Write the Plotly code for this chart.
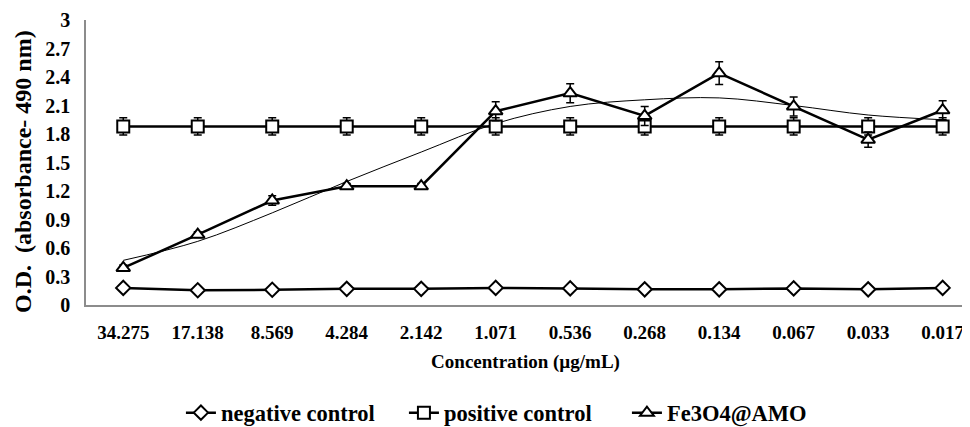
import plotly.graph_objects as go

concentrations = ["34.275", "17.138", "8.569", "4.284", "2.142", "1.071",
                  "0.536", "0.268", "0.134", "0.067", "0.033", "0.017"]
negative_control = [0.18, 0.155, 0.16, 0.17, 0.17, 0.18, 0.175, 0.165, 0.165, 0.175, 0.165, 0.18]
positive_control = [1.88] * 12
positive_err = [0.09] * 12
fe3o4_amo = [0.39, 0.74, 1.10, 1.25, 1.25, 2.04, 2.23, 1.99, 2.44, 2.09, 1.74, 2.05]
fe3o4_err = [0.03, 0.03, 0.05, 0.03, 0.03, 0.10, 0.10, 0.10, 0.12, 0.10, 0.08, 0.10]
# polynomial trendline of Fe3O4@AMO
fe3o4_trend = [0.47, 0.67, 0.97, 1.30, 1.61, 1.91, 2.09, 2.16, 2.18, 2.10, 2.00, 1.95]
y_ticks = [0, 0.3, 0.6, 0.9, 1.2, 1.5, 1.8, 2.1, 2.4, 2.7, 3]
y_ticktext = ["0", "0.3", "0.6", "0.9", "1.2", "1.5", "1.8", "2.1", "2.4", "2.7", "3"]

idx = list(range(len(concentrations)))
FONT = "Times New Roman, Liberation Serif, serif"

fig = go.Figure()

fig.add_trace(go.Scatter(x=idx, y=fe3o4_trend, mode="lines",
                         line=dict(color="black", width=1, shape="spline", smoothing=1.0),
                         showlegend=False, hoverinfo="skip"))

fig.add_trace(go.Scatter(
    x=idx, y=negative_control, name="negative control", mode="lines+markers",
    line=dict(color="black", width=2.5),
    marker=dict(symbol="diamond", size=11, color="white", line=dict(color="black", width=2))))

fig.add_trace(go.Scatter(
    x=idx, y=positive_control, name="positive control", mode="lines+markers",
    line=dict(color="black", width=2.5),
    error_y=dict(type="data", array=positive_err, color="black", thickness=1.5, width=4),
    marker=dict(symbol="square", size=12, color="white", line=dict(color="black", width=2))))

fig.add_trace(go.Scatter(
    x=idx, y=fe3o4_amo, name="Fe3O4@AMO", mode="lines+markers",
    line=dict(color="black", width=2.5),
    error_y=dict(type="data", array=fe3o4_err, color="black", thickness=1.5, width=4),
    marker=dict(symbol="triangle-up", size=12, color="white", line=dict(color="black", width=2))))

fig.add_annotation(text="O.D.  (absorbance- 490 nm)", xref="paper", yref="paper",
                   x=-0.0717, y=0.47, xanchor="center", yanchor="middle", textangle=-90,
                   showarrow=False,
                   font=dict(family=FONT, size=24, color="black", weight="bold"))

fig.update_layout(
    width=962, height=419,
    margin=dict(l=78, r=5, t=12, b=122, autoexpand=False),
    paper_bgcolor="white", plot_bgcolor="white",
    font=dict(family=FONT, color="black"),
    showlegend=True,
    legend=dict(orientation="h", x=0.108, xanchor="left", y=-0.379, yanchor="middle",
                font=dict(family=FONT, size=22.5, color="black", weight="bold"),
                itemwidth=30, tracegroupgap=0, entrywidth=178, entrywidthmode="pixels"),
    xaxis=dict(
        tickmode="array", tickvals=idx, ticktext=concentrations,
        range=[-0.5, 11.3], showgrid=False, zeroline=False, automargin=False,
        showline=True, linecolor="#8c8c8c", linewidth=1.5,
        ticks="", ticklabelstandoff=9,
        tickfont=dict(family=FONT, size=19, color="black", weight="bold"),
        title=dict(text="Concentration (µg/mL)", standoff=13,
                   font=dict(family=FONT, size=19, color="black", weight="bold")),
    ),
    yaxis=dict(
        range=[0, 3], tickmode="array", tickvals=y_ticks, ticktext=y_ticktext,
        showgrid=False, zeroline=False, automargin=False,
        showline=True, linecolor="#8c8c8c", linewidth=1.5,
        ticks="", ticklabelstandoff=10,
        tickfont=dict(family=FONT, size=20, color="black", weight="bold"),
    ),
)

fig.write_html("out.html")
